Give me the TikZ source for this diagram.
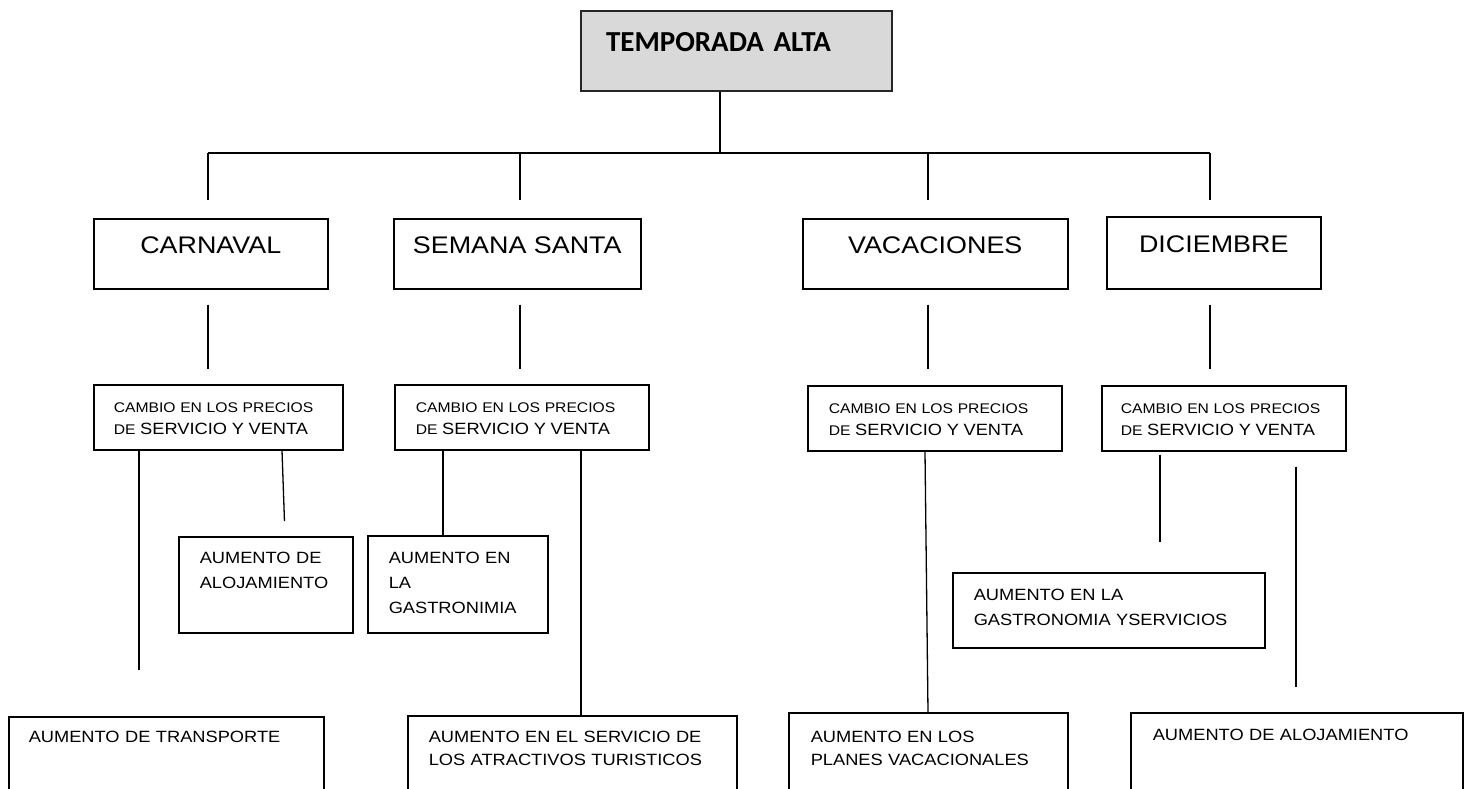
\documentclass[tikz,border=0pt]{standalone}
\usepackage{fontspec}
\setmainfont{Liberation Sans}[FakeStretch=1.12]
\newfontfamily\titlefont{Carlito}
\usepackage{tikz}
\usetikzlibrary{positioning}
\definecolor{grisTitulo}{HTML}{D9D9D9}

\tikzset{
  caja/.style 2 args={draw, line width=1.5pt, anchor=north west, inner ysep=0pt, text height=#1, text depth=#2},
  titulo/.style={caja={40pt}{40pt}, fill=grisTitulo, draw=black!85, line width=2pt, inner xsep=25pt, text width=261pt, align=left, font=\titlefont\bfseries\fontsize{29}{34}\selectfont},
  temporada/.style={caja={35pt}{35pt}, font=\fontsize{24}{28}\selectfont},
  cambio/.style={caja={28pt}{37pt}, align=left, font=\fontsize{14}{22}\selectfont},
  aumento/.style={align=left, font=\fontsize{16.3}{25}\selectfont},
  linea/.style={line width=1.3pt},
}

\begin{document}
\begin{tikzpicture}[x=1pt,y=-1pt]
        \clip (0,0) rectangle (1468,788);
        \node[titulo] (top) at (580,10) {TEMPORADA ALTA};
        % temporadas
        \node[temporada, minimum width=234pt] (carnaval) at (93,218) {CARNAVAL};
        \node[temporada, minimum width=247pt] (semana) at (393,218) {SEMANA SANTA};
        \node[temporada, minimum width=265pt] (vacaciones) at (802,218) {VACACIONES};
        \node[temporada, minimum width=214pt, text height=36pt, text depth=36pt] (diciembre) at (1106,216) {DICIEMBRE};
        % precios
        \node[cambio, inner xsep=20pt, text width=209pt] (cc1) at (93,384) {CAMBIO EN LOS PRECIOS\\DE {\fontsize{16.3}{22}\selectfont SERVICIO Y VENTA}};
        \node[cambio, inner xsep=21pt, text width=212pt] (cc2) at (394,384) {CAMBIO EN LOS PRECIOS\\DE {\fontsize{16.3}{22}\selectfont SERVICIO Y VENTA}};
        \node[cambio, inner xsep=21pt, text width=212pt] (cc3) at (807,385) {CAMBIO EN LOS PRECIOS\\DE {\fontsize{16.3}{22}\selectfont SERVICIO Y VENTA}};
        \node[cambio, inner xsep=19pt, text width=206pt] (cc4) at (1101,385) {CAMBIO EN LOS PRECIOS\\DE {\fontsize{16.3}{22}\selectfont SERVICIO Y VENTA}};
        % aumentos
        \node[caja={27pt}{69pt}, aumento, inner xsep=21pt, text width=132pt] (al1) at (178,536) {AUMENTO DE\\ALOJAMIENTO};
        \node[caja={28pt}{69pt}, aumento, inner xsep=21pt, text width=138pt] (ga2) at (367,535) {AUMENTO EN\\LA\\GASTRONIMIA};
        \node[caja={28pt}{47pt}, aumento, inner xsep=21pt, text width=270pt] (ga4) at (952,572) {AUMENTO EN LA\\GASTRONOMIA YSERVICIOS};
        \node[caja={26pt}{60pt}, aumento, inner xsep=20pt, text width=275pt] (tr1) at (8,716) {AUMENTO DE TRANSPORTE};
        \node[caja={27pt}{60pt}, aumento, font=\fontsize{16.3}{23}\selectfont, inner xsep=21pt, text width=287pt] (at2) at (407,715) {AUMENTO EN EL SERVICIO DE\\LOS ATRACTIVOS TURISTICOS};
        \node[caja={30pt}{60pt}, aumento, font=\fontsize{16.3}{23}\selectfont, inner xsep=22pt, text width=235pt] (pv3) at (788,712) {AUMENTO EN LOS\\PLANES VACACIONALES};
        \node[caja={28pt}{60pt}, aumento, inner xsep=22pt, text width=288pt] (al4) at (1130,712) {AUMENTO DE ALOJAMIENTO};
        % conectores
        \coordinate (bus) at (720,153);
        \coordinate (k1) at (208,153);
        \coordinate (k2) at (520,153);
        \coordinate (k3) at (928,153);
        \coordinate (k4) at (1210,153);
        \draw[linea] (top.south -| bus) -- (bus);
        \draw[linea] (k1) -- (k4);
        \draw[linea, shorten >=18pt] (k1) -- (k1 |- carnaval.north);
        \draw[linea, shorten >=18pt] (k2) -- (k2 |- semana.north);
        \draw[linea, shorten >=18pt] (k3) -- (k3 |- vacaciones.north);
        \draw[linea, shorten >=16pt] (k4) -- (k4 |- diciembre.north);
        \draw[linea, shorten <=15pt, shorten >=15pt] (k1 |- carnaval.south) -- (k1 |- cc1.north);
        \draw[linea, shorten <=15pt, shorten >=15pt] (k2 |- semana.south) -- (k2 |- cc2.north);
        \draw[linea, shorten <=15pt, shorten >=16pt] (k3 |- vacaciones.south) -- (k3 |- cc3.north);
        \draw[linea, shorten <=15pt, shorten >=16pt] (k4 |- diciembre.south) -- (k4 |- cc4.north);
        \draw[linea, shorten >=46pt] (cc1.south -| 139,0) -- (tr1.north -| 139,0);
        \draw[linea, shorten >=15pt] (cc1.south -| 282,0) -- (al1.north -| 285,0);
        \draw[linea] (cc2.south -| 443,0) -- (ga2.north -| 443,0);
        \draw[linea] (cc2.south -| 581,0) -- (at2.north -| 581,0);
        \draw[linea] (cc3.south -| 925,0) -- (pv3.north -| 928,0);
        \draw[linea, shorten <=3pt, shorten >=30pt] (cc4.south -| 1160,0) -- (ga4.north -| 1160,0);
        \draw[linea, shorten <=15pt, shorten >=25pt] (cc4.south -| 1296,0) -- (al4.north -| 1296,0);
    \end{tikzpicture}
\end{document}
